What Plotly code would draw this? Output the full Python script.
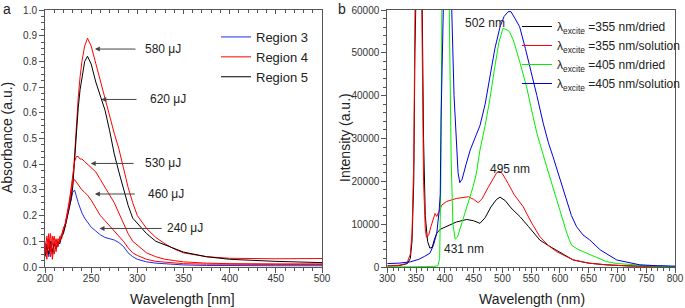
import plotly.graph_objects as go

# ---------------- Panel a: absorbance ----------------
LEFT_WL = [200, 202, 204, 206, 208, 210, 212, 214, 216, 218, 220, 222, 224, 226, 228, 230,
           232, 234, 236, 238, 240, 243, 246, 250, 255, 260, 265, 270, 275, 280, 285, 290,
           295, 300, 310, 320, 330, 340, 350, 375, 400, 450, 500]

R3_240 = [0.06, 0.09, 0.04, 0.08, 0.05, 0.10, 0.07, 0.09, 0.10, 0.12, 0.14, 0.16, 0.19, 0.22, 0.26, 0.29,
          0.30, 0.27, 0.25, 0.23, 0.21, 0.19, 0.175, 0.155, 0.14, 0.125, 0.115, 0.11, 0.105, 0.095, 0.08, 0.055,
          0.04, 0.03, 0.02, 0.015, 0.012, 0.01, 0.008, 0.006, 0.005, 0.005, 0.005]
R5_620 = [0.04, 0.08, 0.05, 0.10, 0.06, 0.09, 0.07, 0.10, 0.09, 0.12, 0.13, 0.16, 0.19, 0.22, 0.26, 0.31,
          0.42, 0.53, 0.62, 0.69, 0.74, 0.80, 0.82, 0.79, 0.72, 0.66, 0.61, 0.53, 0.44, 0.37, 0.30, 0.24,
          0.19, 0.17, 0.13, 0.10, 0.085, 0.07, 0.058, 0.04, 0.03, 0.022, 0.017]
R4_580 = [0.08, 0.03, 0.11, 0.06, 0.12, 0.05, 0.10, 0.08, 0.11, 0.11, 0.14, 0.16, 0.20, 0.23, 0.27, 0.32,
          0.44, 0.56, 0.66, 0.74, 0.80, 0.86, 0.89, 0.86, 0.79, 0.72, 0.66, 0.59, 0.52, 0.46, 0.38, 0.31,
          0.25, 0.20, 0.15, 0.115, 0.09, 0.07, 0.055, 0.04, 0.034, 0.032, 0.033]
R4_530 = [0.10, 0.05, 0.13, 0.04, 0.09, 0.12, 0.06, 0.11, 0.10, 0.13, 0.15, 0.17, 0.20, 0.24, 0.30, 0.36,
          0.41, 0.43, 0.43, 0.42, 0.42, 0.41, 0.40, 0.39, 0.37, 0.34, 0.31, 0.28, 0.25, 0.21, 0.17, 0.13,
          0.10, 0.085, 0.055, 0.04, 0.03, 0.025, 0.02, 0.015, 0.013, 0.012, 0.012]
R4_460 = [0.05, 0.12, 0.07, 0.13, 0.03, 0.09, 0.11, 0.08, 0.12, 0.12, 0.15, 0.17, 0.21, 0.25, 0.29, 0.33,
          0.34, 0.33, 0.32, 0.31, 0.30, 0.29, 0.28, 0.26, 0.23, 0.20, 0.18, 0.16, 0.14, 0.12, 0.10, 0.075,
          0.055, 0.045, 0.03, 0.022, 0.018, 0.015, 0.013, 0.011, 0.01, 0.01, 0.01]

# annotations: (label, arrow head wl, head value, arrow tail wl, text start wl)
LEFT_ANN_LABELS = ["580 μJ", "620 μJ", "530 μJ", "460 μJ", "240 μJ"]
LEFT_ANN_HEAD_X = [254, 261, 249.5, 254, 259]
LEFT_ANN_Y = [0.848, 0.652, 0.403, 0.284, 0.15]
LEFT_ANN_TAIL_X = [299.6, 300.7, 297.5, 299, 328]
LEFT_ANN_TEXT_X = [306, 311.5, 306, 309, 330]

# ---------------- Panel b: photoluminescence ----------------
B355_DRY_X = [300, 320, 335, 340, 343, 346, 348, 350, 355, 360, 363, 366, 370, 374, 378, 382, 386, 392,
              403, 420, 438, 450, 461, 470, 480, 490, 496, 505, 515, 531, 545, 565, 580, 594, 610, 623,
              650, 681, 720, 760, 800]
B355_DRY_Y = [200, 300, 800, 2000, 6000, 20000, 50000, 80000, 100000, 70000, 30000, 12000, 6000, 4400,
              4600, 6500, 7900, 8800, 9400, 10500, 11100, 10800, 10200, 11500, 14000, 15800, 16300, 15500,
              13800, 11700, 9500, 6300, 5000, 3900, 2600, 1650, 900, 500, 250, 150, 100]

B355_SOL_X = [300, 320, 330, 335, 340, 343, 346, 348, 350, 355, 360, 363, 366, 368, 372, 376, 380, 383,
              386, 390, 395, 403, 420, 441, 450, 458, 465, 475, 485, 490, 496, 500, 510, 520, 536, 550,
              565, 580, 594, 610, 623, 650, 681, 720, 760, 800]
B355_SOL_Y = [300, 400, 700, 1200, 3000, 8000, 25000, 60000, 90000, 100000, 60000, 20000, 9000, 6900,
              7500, 9500, 11000, 12500, 11800, 13000, 14500, 15300, 16000, 16400, 15800, 15000, 16000,
              18500, 21000, 22000, 22300, 21800, 19500, 17000, 14100, 10500, 7100, 5000, 3600, 2500,
              1650, 900, 500, 250, 150, 100]

B405_DRY_X = [300, 350, 380, 388, 391, 393, 394.5, 397, 403, 407, 411, 414, 418, 422, 428, 432, 440,
              449, 455, 461, 470, 478, 486, 494, 501, 506, 512, 519, 530, 542, 551, 560, 577, 594, 605,
              612, 620, 630, 647, 665, 681, 700, 727, 760, 800]
B405_DRY_Y = [0, 0, 100, 300, 2000, 20000, 60000, 110000, 110000, 60000, 25000, 10000, 6500, 7000,
              9500, 11700, 15000, 18700, 22000, 27300, 33000, 39000, 46000, 52500, 55700, 55500, 55000,
              53000, 48000, 42100, 36500, 31200, 23400, 15600, 11000, 7900, 5100, 4200, 3200, 2100,
              1240, 800, 500, 250, 100]

B405_SOL_X = [300, 320, 340, 355, 365, 374, 380, 386, 390, 392, 393.5, 394.5, 397, 405, 410, 412, 416,
              420, 423, 426, 430, 437, 444, 455, 461, 470, 478, 487, 496, 503, 510, 515, 522, 530, 540,
              548, 560, 571, 580, 588, 600, 612, 620, 629, 640, 652, 670, 699, 739, 770, 800]
B405_SOL_Y = [800, 900, 1200, 1800, 2500, 3200, 5000, 7900, 13000, 17000, 35000, 60000, 110000, 110000,
              90000, 60000, 40000, 28000, 22000, 19700, 20500, 24000, 27300, 31000, 33000, 38000, 44400,
              51000, 56100, 58500, 59600, 59600, 58000, 56100, 51000, 46800, 40000, 33550, 29000, 25750,
              20500, 15600, 12000, 9400, 7500, 6300, 4000, 1630, 500, 300, 200]

RIGHT_ANN_LABELS = ["502 nm", "495 nm", "431 nm"]
RIGHT_ANN_X = [470, 513, 433]
RIGHT_ANN_Y = [57000, 22800, 4200]

FONT = "Liberation Sans, Arial, sans-serif"
fig = go.Figure()

# ---- left traces
fig.add_trace(go.Scatter(x=LEFT_WL, y=R3_240, mode="lines", name="Region 3",
                         line=dict(color="#1f2ee8", width=1), xaxis="x", yaxis="y", legend="legend"))
fig.add_trace(go.Scatter(x=LEFT_WL, y=R4_580, mode="lines", name="Region 4",
                         line=dict(color="#ff0000", width=1), xaxis="x", yaxis="y", legend="legend"))
fig.add_trace(go.Scatter(x=LEFT_WL, y=R5_620, mode="lines", name="Region 5",
                         line=dict(color="#000000", width=1), xaxis="x", yaxis="y", legend="legend"))
fig.add_trace(go.Scatter(x=LEFT_WL, y=R4_530, mode="lines", name="Region 4", showlegend=False,
                         line=dict(color="#ff0000", width=1), xaxis="x", yaxis="y"))
fig.add_trace(go.Scatter(x=LEFT_WL, y=R4_460, mode="lines", name="Region 4", showlegend=False,
                         line=dict(color="#ff0000", width=1), xaxis="x", yaxis="y"))
# empty trace so the top (mirror) axis of panel a is instantiated
fig.add_trace(go.Scatter(x=[], y=[], mode="lines", showlegend=False, hoverinfo="skip",
                         xaxis="x3", yaxis="y"))

# ---- right traces
exc = "λ<sub>excite</sub> ="
fig.add_trace(go.Scatter(x=B355_DRY_X, y=B355_DRY_Y, mode="lines", name=exc + "355 nm/dried",
                         line=dict(color="#000000", width=1), xaxis="x2", yaxis="y2", legend="legend2"))
fig.add_trace(go.Scatter(x=B355_SOL_X, y=B355_SOL_Y, mode="lines", name=exc + "355 nm/solution",
                         line=dict(color="#ff0000", width=1), xaxis="x2", yaxis="y2", legend="legend2"))
fig.add_trace(go.Scatter(x=B405_DRY_X, y=B405_DRY_Y, mode="lines", name=exc + "405 nm/dried",
                         line=dict(color="#00ee00", width=1), xaxis="x2", yaxis="y2", legend="legend2"))
fig.add_trace(go.Scatter(x=B405_SOL_X, y=B405_SOL_Y, mode="lines", name=exc + "405 nm/solution",
                         line=dict(color="#0000dd", width=1), xaxis="x2", yaxis="y2", legend="legend2"))

W, H = 685, 308
def px_x(p): return p / W
def px_y(p): return 1 - p / H

dom_y = [px_y(267), px_y(10)]
axis_common = dict(showgrid=False, zeroline=False, linecolor="#555555", linewidth=1,
                   ticks="outside", ticklen=5, tickcolor="#555555",
                   tickfont=dict(family=FONT, size=10, color="#333333"), automargin=False)

annotations = []
for lab, hx, yv, tx, txx in zip(LEFT_ANN_LABELS, LEFT_ANN_HEAD_X, LEFT_ANN_Y, LEFT_ANN_TAIL_X, LEFT_ANN_TEXT_X):
    annotations.append(dict(x=hx, y=yv, ax=tx, ay=yv, xref="x", yref="y", axref="x", ayref="y",
                            text="", showarrow=True, arrowhead=2, arrowsize=1, arrowwidth=1,
                            arrowcolor="#444444"))
    annotations.append(dict(x=txx, y=yv, xref="x", yref="y", text=lab, showarrow=False,
                            xanchor="left", yanchor="middle",
                            font=dict(family=FONT, size=12, color="#222222")))
for lab, xv, yv in zip(RIGHT_ANN_LABELS, RIGHT_ANN_X, RIGHT_ANN_Y):
    annotations.append(dict(x=xv, y=yv, xref="x2", yref="y2", text=lab, showarrow=False,
                            xanchor="center", yanchor="middle",
                            font=dict(family=FONT, size=12, color="#222222")))

title_font = dict(family=FONT, size=14, color="#222222")
paper_text = [
    # (text, x px, y px, angle)
    ("Absorbance (a.u.)", 7, 138, -90),
    ("Intensity (a.u.)", 345, 138, -90),
    ("Wavelength [nm]", 183, 299, 0),
    ("Wavelength (nm)", 532, 299, 0),
    ("a", 7, 9, 0),
    ("b", 342, 9, 0),
]
for txt, xp, yp, ang in paper_text:
    annotations.append(dict(x=px_x(xp), y=px_y(yp), xref="paper", yref="paper", text=txt,
                            textangle=ang, showarrow=False, xanchor="center", yanchor="middle",
                            font=title_font))

fig.update_layout(
    width=W, height=H, margin=dict(l=0, r=0, t=0, b=0),
    paper_bgcolor="white", plot_bgcolor="white",
    xaxis=dict(domain=[px_x(45), px_x(322)], range=[200, 500], dtick=50, anchor="y",
               ticklabelstandoff=-3,
               minor=dict(dtick=10, ticklen=3, ticks="outside", tickcolor="#555555"),
               **axis_common),
    yaxis=dict(domain=dom_y, range=[0, 1.0], dtick=0.1, tickformat=".1f", anchor="x", mirror=True,
               minor=dict(dtick=0.025, ticklen=3, ticks="outside", tickcolor="#555555"),
               **axis_common),
    xaxis3=dict(overlaying="x", side="top", range=[200, 500], dtick=50, showticklabels=False,
                showgrid=False, zeroline=False, showline=True, linecolor="#555555", linewidth=1,
                ticks="inside", ticklen=4, tickcolor="#555555", anchor="y",
                minor=dict(dtick=10, ticklen=3, ticks="inside", tickcolor="#555555")),
    xaxis2=dict(domain=[px_x(387.3), px_x(675)], range=[300, 800], dtick=50, anchor="y2", mirror=True,
                ticklabelstandoff=-3,
                minor=dict(dtick=10, ticklen=3, ticks="outside", tickcolor="#555555"),
                **axis_common),
    yaxis2=dict(domain=dom_y, range=[0, 60000], dtick=10000, tickformat="d", anchor="x2", mirror=True,
                minor=dict(dtick=2000, ticklen=3, ticks="outside", tickcolor="#555555"),
                **axis_common),
    legend=dict(x=px_x(216), y=px_y(22), xanchor="left", yanchor="top", bgcolor="rgba(0,0,0,0)",
                font=dict(family=FONT, size=13, color="#222222"), tracegroupgap=0,
                itemwidth=30),
    legend2=dict(x=px_x(517), y=px_y(12), xanchor="left", yanchor="top", bgcolor="rgba(0,0,0,0)",
                 font=dict(family=FONT, size=12, color="#222222"), tracegroupgap=0,
                 itemwidth=30),
    annotations=annotations,
    showlegend=True,
)

fig.write_html("out.html")
